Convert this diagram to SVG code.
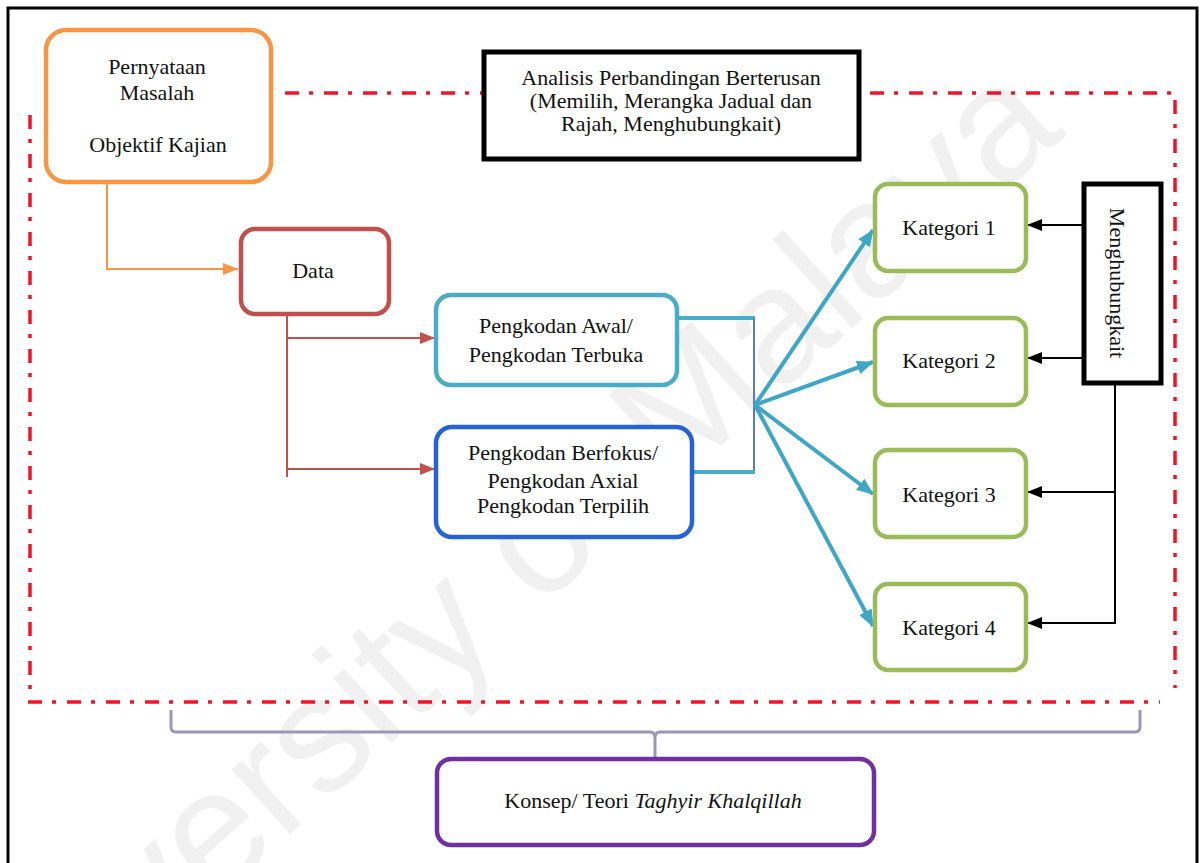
<svg xmlns="http://www.w3.org/2000/svg" width="1204" height="863" viewBox="0 0 1204 863">
<style>
.t{font-family:"Liberation Serif","Times New Roman",serif;font-size:22px;fill:#111;text-anchor:middle}
.box{fill:#fff;stroke-width:4.5}
.frame{fill:none;stroke:#f0142a;stroke-width:3.5;stroke-dasharray:14 10 4 11}
.fan{fill:none;stroke:#3fa6c6;stroke-width:4}
.blk{fill:none;stroke:#000;stroke-width:2}
.red{fill:none;stroke:#c0504d;stroke-width:2}
</style>
<defs>
<marker id="aFan" markerUnits="userSpaceOnUse" markerWidth="18" markerHeight="16" refX="16" refY="8" orient="auto"><path d="M0,1 L17,8 L0,15 Z" fill="#3fa6c6"/></marker>
<marker id="aBlk" markerUnits="userSpaceOnUse" markerWidth="16" markerHeight="16" refX="15" refY="8" orient="auto"><path d="M0,2 L15,8 L0,14 Z" fill="#000"/></marker>
<marker id="aRed" markerUnits="userSpaceOnUse" markerWidth="16" markerHeight="16" refX="15" refY="8" orient="auto"><path d="M0,2 L15,8 L0,14 Z" fill="#c0504d"/></marker>
<marker id="aOr" markerUnits="userSpaceOnUse" markerWidth="16" markerHeight="16" refX="15" refY="8" orient="auto"><path d="M0,2 L15,8 L0,14 Z" fill="#f79646"/></marker>
</defs>
<rect x="0" y="0" width="1204" height="863" fill="#fff"/>
<text transform="translate(-30,1122) rotate(-42)" font-family="'Liberation Sans',Arial,sans-serif" font-size="164" fill="#f1f1f1">University of Malaya</text>
<rect x="8" y="8" width="1189" height="880" fill="none" stroke="#000" stroke-width="3"/>
<g id="frame">
<path class="frame" d="M285,93 H1175 V688"/>
<path class="frame" d="M30,115 V690"/>
<path class="frame" d="M28,702 H1160"/>
</g>
<g id="connectors">
<path d="M107,183 V269 H238" fill="none" stroke="#f79646" stroke-width="2" marker-end="url(#aOr)"/>
<path class="red" d="M287,315 V477"/>
<path class="red" d="M287,338 H435" marker-end="url(#aRed)"/>
<path class="red" d="M287,469 H435" marker-end="url(#aRed)"/>
<path d="M678,318 H755" fill="none" stroke="#4bacc6" stroke-width="4"/>
<path d="M754,318 V473" fill="none" stroke="#5a7cc6" stroke-width="2"/>
<path d="M693,472 H755" fill="none" stroke="#4bacc6" stroke-width="4"/>
<path class="fan" d="M755,405 L873,230" marker-end="url(#aFan)"/>
<path class="fan" d="M755,405 L873,362" marker-end="url(#aFan)"/>
<path class="fan" d="M755,405 L873,494" marker-end="url(#aFan)"/>
<path class="fan" d="M755,405 L873,626" marker-end="url(#aFan)"/>
<path class="blk" d="M1083,225 H1027" marker-end="url(#aBlk)"/>
<path class="blk" d="M1083,358 H1027" marker-end="url(#aBlk)"/>
<path class="blk" d="M1115,384 V624"/>
<path class="blk" d="M1115,492 H1027" marker-end="url(#aBlk)"/>
<path class="blk" d="M1115,623 H1027" marker-end="url(#aBlk)"/>
<path d="M171,710 V727 Q171,732 176,732 H650 Q655,732 655,738 V757 M655,738 Q655,732 660,732 H1135 Q1140,732 1140,727 V710" fill="none" stroke="#9d97b6" stroke-width="3"/>
</g>
<g id="n-pernyataan">
<rect class="box" x="46" y="30" width="225" height="152" rx="20" stroke="#f79646"/>
<text class="t" x="157" y="74">Pernyataan</text>
<text class="t" x="157" y="100">Masalah</text>
<text class="t" x="158" y="152">Objektif Kajian</text>
</g>
<g id="n-analisis">
<rect x="484" y="52" width="375" height="107" fill="#fff" stroke="#000" stroke-width="5"/>
<text class="t" x="671" y="85">Analisis Perbandingan Berterusan</text>
<text class="t" x="671" y="108">(Memilih, Merangka Jadual dan</text>
<text class="t" x="671" y="131">Rajah, Menghubungkait)</text>
</g>
<g id="n-data">
<rect class="box" x="241" y="229" width="148" height="85" rx="14" stroke="#c0504d"/>
<text class="t" x="313" y="278">Data</text>
</g>
<g id="n-awal">
<rect class="box" x="436" y="295" width="241" height="90" rx="15" stroke="#4bacc6"/>
<text class="t" x="556" y="333">Pengkodan Awal/</text>
<text class="t" x="556" y="362">Pengkodan Terbuka</text>
</g>
<g id="n-berfokus">
<rect class="box" x="436" y="427" width="256" height="110" rx="16" stroke="#2563d4"/>
<text class="t" x="563" y="460">Pengkodan Berfokus/</text>
<text class="t" x="563" y="488">Pengkodan Axial</text>
<text class="t" x="563" y="513">Pengkodan Terpilih</text>
</g>
<g id="n-kat1">
<rect class="box" x="875" y="184" width="151" height="87" rx="13" stroke="#9bbb59"/>
<text class="t" x="949" y="235">Kategori 1</text>
</g>
<g id="n-kat2">
<rect class="box" x="875" y="318" width="151" height="87" rx="13" stroke="#9bbb59"/>
<text class="t" x="949" y="368">Kategori 2</text>
</g>
<g id="n-kat3">
<rect class="box" x="875" y="450" width="151" height="87" rx="13" stroke="#9bbb59"/>
<text class="t" x="949" y="502">Kategori 3</text>
</g>
<g id="n-kat4">
<rect class="box" x="875" y="584" width="151" height="86" rx="13" stroke="#9bbb59"/>
<text class="t" x="949" y="635">Kategori 4</text>
</g>
<g id="n-menghubungkait">
<rect x="1084" y="184" width="77" height="199" fill="#fff" stroke="#000" stroke-width="5"/>
<text class="t" transform="translate(1110,283) rotate(90)">Menghubungkait</text>
</g>
<g id="n-konsep">
<rect class="box" x="437" y="759" width="437" height="86" rx="14" stroke="#7030a0"/>
<text class="t" x="653" y="808">Konsep/ Teori <tspan font-style="italic">Taghyir Khalqillah</tspan></text>
</g>
</svg>
